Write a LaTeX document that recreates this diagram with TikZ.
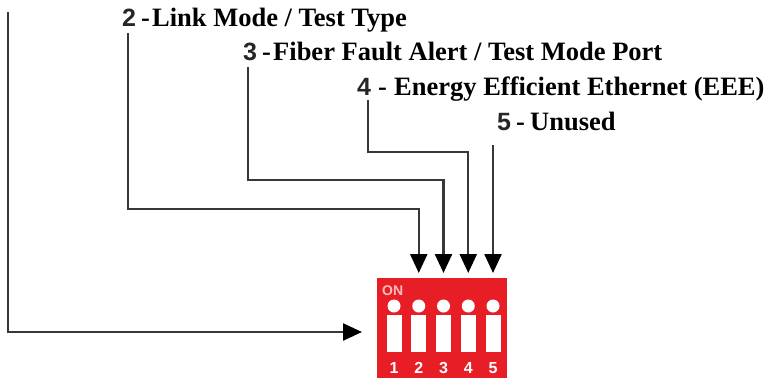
\documentclass[tikz,border=0pt]{standalone}
\usepackage{fontspec}
\setmainfont{Liberation Serif}
\newfontfamily\numfont{Liberation Sans}
\usetikzlibrary{arrows.meta}
\definecolor{dipred}{RGB}{232,30,38}
\definecolor{wire}{RGB}{55,55,55}
\definecolor{onpink}{RGB}{250,190,190}
\begin{document}
\begin{tikzpicture}[x=1pt,y=-1pt,
  lbl/.style={anchor=base west,inner sep=0pt,font=\fontsize{26.5}{30}\selectfont\bfseries},
  numlbl/.style={anchor=base west,inner sep=0pt,font=\fontsize{25}{30}\selectfont\numfont\bfseries,text=black!85},
  wireline/.style={draw=wire,line width=2.4pt,line join=miter},
  arr/.style={wireline,-{Triangle[width=17pt,length=19pt,fill=black,color=black]}},
  knob/.style={circle,fill=white,draw=none,minimum size=13pt,inner sep=0pt},
  slot/.style={rectangle,fill=white,draw=none,minimum width=15pt,minimum height=37pt,inner sep=0pt},
  pin/.style={font=\fontsize{16}{17}\selectfont\numfont\bfseries,text=white,inner sep=0pt,anchor=base}]
\useasboundingbox (0,0) rectangle (771,378);
\fill[white] (0,0) rectangle (771,378);
% labels
\node[numlbl] (n2) at (122,26) {2};
\node[lbl] (d2) at (141,26) {-};
\node[lbl] (t2) at (152,26) {Link Mode / Test Type};
\node[numlbl] (n3) at (243,60) {3};
\node[lbl] (d3) at (262,60) {-};
\node[lbl] (t3) at (273,60) {Fiber Fault Alert / Test Mode Port};
\node[numlbl] (n4) at (357,95) {4};
\node[lbl] (d4) at (378,95) {-};
\node[lbl] (t4) at (394,95) {Energy Efficient Ethernet (EEE)};
\node[numlbl] (n5) at (497,130) {5};
\node[lbl] (d5) at (516,130) {-};
\node[lbl] (t5) at (530,130) {Unused};
% DIP switch
\node[fill=dipred,draw=none,minimum width=130pt,minimum height=100pt,inner sep=0pt,anchor=north west] (dip) at (377,278) {};
\node[anchor=base west,inner sep=0pt,font=\fontsize{14}{15}\selectfont\numfont\bfseries,text=onpink] (on) at (382,295) {ON};
\foreach \i/\x in {1/394,2/418.75,3/443.5,4/468.25,5/493}{
  \node[knob] (k\i) at (\x,306) {};
  \node[slot] (s\i) at (\x,333.5) {};
  \node[pin] (p\i) at (\x,373.5) {\i};
}
% coordinates
\coordinate (a1) at (8,12);
\coordinate (b1) at (8,332);
\coordinate (e1) at (362,332);
\coordinate (a2) at (128,33);
\coordinate (b2) at (128,209);
\coordinate (c2) at (418.75,209);
\coordinate (e2) at (418.75,273);
\coordinate (a3) at (248,67);
\coordinate (b3) at (248,180);
\coordinate (c3) at (443.5,180);
\coordinate (e3) at (443.5,273);
\coordinate (a4) at (368,100);
\coordinate (b4) at (368,152);
\coordinate (c4) at (468.25,152);
\coordinate (e4) at (468.25,273);
\coordinate (a5) at (493,145);
\coordinate (e5) at (493,273);
% connectors
\draw[arr] (a1) -- (b1) -- (e1);
\draw[arr] (a2) -- (b2) -- (c2) -- (e2);
\draw[arr] (a3) -- (b3) -- (c3) -- (e3);
\draw[arr] (a4) -- (b4) -- (c4) -- (e4);
\draw[arr] (a5) -- (e5);
\end{tikzpicture}
\end{document}
